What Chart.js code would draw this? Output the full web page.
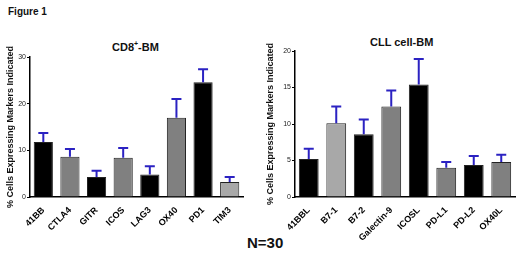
<!DOCTYPE html>
<html>
<head>
<meta charset="UTF-8">
<script src="https://cdn.jsdelivr.net/npm/chart.js"></script>
<style>
  body { margin: 0; background: #fff; width: 520px; height: 258px; position: relative; overflow: hidden; font-family: Arial, "Liberation Sans", sans-serif; }
  .c { position: absolute; top: 0; width: 260px; height: 258px; }
  .txt { position: absolute; font-weight: bold; color: #111; white-space: nowrap; }
</style>
</head>
<body>
  <div class="txt" style="left:8px; top:6px; font-size:10px;">Figure 1</div>
  <div class="txt" style="left:112px; top:40px; font-size:11px;">CD8<sup style="font-size:7px;">+</sup>-BM</div>
  <div class="txt" style="left:370px; top:36px; font-size:11px;">CLL cell-BM</div>
  <div class="txt" style="left:247px; top:234px; font-size:15px;">N=30</div>

  <div class="c" style="left:0;"><canvas id="g1" width="260" height="258"></canvas></div>
  <div class="c" style="left:260px;"><canvas id="g2" width="260" height="258"></canvas></div>

<script>
  // esquerda: CD8+ BM
  const cd8Labels = ["41BB", "CTLA4", "GITR", "ICOS", "LAG3", "OX40", "PD1", "TIM3"];
  const cd8Values = [11.8, 8.6, 4.3, 8.4, 4.8, 17.0, 24.6, 3.2];
  const cd8Err = [1.9, 1.7, 1.3, 2.1, 1.8, 4.0, 2.8, 1.1];
  const cd8Ticks = [0, 10, 20, 30];

  // direita: CLL cell BM
  const cllLabels = ["41BBL", "B7-1", "B7-2", "Galectin-9", "ICOSL", "PD-L1", "PD-L2", "OX40L"];
  const cllValues = [5.2, 10.1, 8.6, 12.4, 15.4, 4.0, 4.4, 4.8];
  const cllErr = [1.4, 2.3, 2.0, 2.2, 3.5, 0.8, 1.2, 1.0];
  const cllTicks = [0, 5, 10, 15, 20];

  const PRETO = "#000000";
  const CINZA = "#808080";
  const CLARO = "#a8a8a8";

  const cd8Cores = [PRETO, CINZA, PRETO, CINZA, PRETO, CINZA, PRETO, CLARO];
  const cllCores = [PRETO, CLARO, PRETO, CINZA, PRETO, CINZA, PRETO, CINZA];

  // barras de erro (so para cima, com "chapeu")
  const errorBars = {
    id: "errorBars",
    afterDatasetsDraw(chart, args, opts) {
      const ctx = chart.ctx;
      const meta = chart.getDatasetMeta(0);
      const y = chart.scales.y;
      const vals = chart.data.datasets[0].data;
      ctx.save();
      ctx.strokeStyle = "#2b22c2";
      ctx.lineWidth = 2;
      meta.data.forEach(function (bar, i) {
        const top = y.getPixelForValue(vals[i] + opts.err[i]);
        ctx.beginPath();
        ctx.moveTo(bar.x, bar.y);
        ctx.lineTo(bar.x, top);
        ctx.moveTo(bar.x - 5, top);
        ctx.lineTo(bar.x + 5, top);
        ctx.stroke();
      });
      ctx.restore();
    }
  };

  function montar(id, labels, values, err, cores, ticks, max, pad, yW) {
    return new Chart(document.getElementById(id), {
      type: "bar",
      data: {
        labels: labels,
        datasets: [{
          data: values,
          backgroundColor: cores,
          borderColor: "#222",
          borderWidth: 1,
          barPercentage: 0.72,
          categoryPercentage: 1
        }]
      },
      plugins: [errorBars],
      options: {
        responsive: false,
        animation: false,
        devicePixelRatio: 1,
        layout: { padding: pad },
        plugins: {
          legend: { display: false },
          tooltip: { enabled: false },
          errorBars: { err: err }
        },
        scales: {
          x: {
            grid: { display: false },
            border: { color: "#000", width: 1.5 },
            ticks: {
              color: "#000",
              font: { family: "Arial", size: 9, weight: "bold" },
              minRotation: 45,
              maxRotation: 45,
              padding: 0
            },
            afterFit(s) { s.height = 61; }
          },
          y: {
            min: 0,
            max: max,
            afterBuildTicks(s) { s.ticks = ticks.map(v => ({ value: v })); },
            grid: { display: true, drawOnChartArea: false, tickLength: 3, color: "#000" },
            border: { color: "#000", width: 1.5 },
            ticks: {
              color: "#222",
              font: { family: "Arial", size: 7 },
              padding: 1
            },
            title: {
              display: true,
              text: "% Cells Expressing Markers Indicated",
              color: "#111",
              font: { family: "Arial", size: 9, weight: "bold" },
              padding: 0
            },
            afterFit(s) { s.width = yW; }
          }
        }
      }
    });
  }

  montar("g1", cd8Labels, cd8Values, cd8Err, cd8Cores, cd8Ticks, 30,
    { left: 5, right: 17, top: 57, bottom: 0 }, 25);
  montar("g2", cllLabels, cllValues, cllErr, cllCores, cllTicks, 20,
    { left: 5, right: 5, top: 51, bottom: 0 }, 30);
</script>
</body>
</html>
